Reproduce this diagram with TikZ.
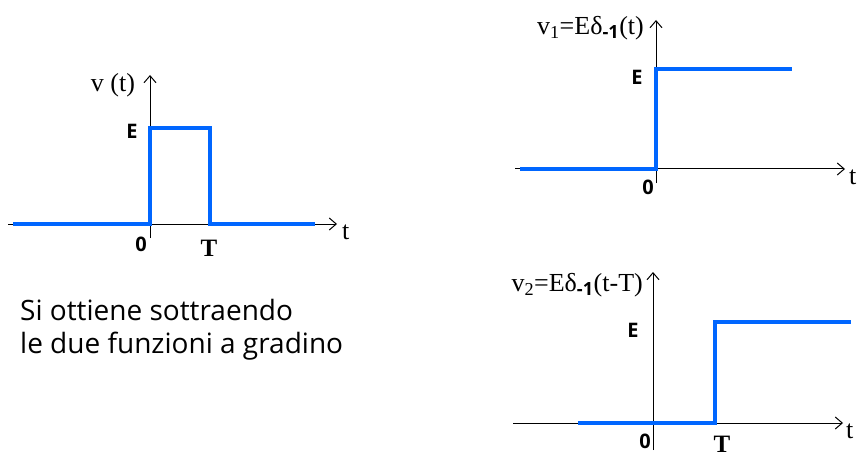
\documentclass[tikz,border=0pt]{standalone}
\usepackage{fontspec}
\setmainfont{Liberation Serif}
\setsansfont{Open Sans}
\usetikzlibrary{arrows.meta}
\definecolor{sigBlue}{RGB}{0,102,255}

\begin{document}
\begin{tikzpicture}[x=1pt,y=-1pt, every node/.style={inner sep=0pt},
  axis/.style={line width=1pt,-{Straight Barb[length=7pt,width=12pt]}},
  sig/.style={draw=sigBlue,line width=3.6pt},
  lab/.style={font=\fontsize{26}{30}\selectfont},
  tick/.style={font=\fontsize{20}{24}\selectfont\sffamily\bfseries}]
\useasboundingbox (0,0) rectangle (861,457);
% impulso rettangolare
\coordinate (ax1) at (8,224);
\coordinate (bx1) at (337,224);
\coordinate (ay1) at (150,238);
\coordinate (by1) at (150,75);
\draw[axis] (ax1) -- (bx1);
\draw[axis] (ay1) -- (by1);
\draw[sig] (13,224) -- (150,224) -- (150,128) -- (210,128) -- (210,224) -- (315,224);
\node[lab] (v) at (113,85) {v (t)};
\node[tick] (E1) at (132,131) {E};
\node[tick] (O1) at (141,244) {0};
\node[lab,font=\fontsize{25}{30}\selectfont\bfseries] (T1) at (209,248) {T};
\node[lab,anchor=west] (t1) at (342,232) {t};
\node[anchor=base west,font=\fontsize{28}{32}\selectfont\sffamily] (txt1) at (20,320) {Si ottiene sottraendo};
\node[anchor=base west,font=\fontsize{28}{32}\selectfont\sffamily] (txt2) at (20,353) {le due funzioni a gradino};
% gradino in 0
\coordinate (ax2) at (515,169);
\coordinate (bx2) at (845,169);
\coordinate (ay2) at (656,183);
\coordinate (by2) at (656,20);
\draw[axis] (ax2) -- (bx2);
\draw[axis] (ay2) -- (by2);
\draw[sig] (520,169) -- (656,169) -- (656,69) -- (792,69);
\node[lab,anchor=east] (v1) at (644,28) {v\textsubscript{1}=Eδ\textsubscript{\sffamily\bfseries -1}(t)};
\node[tick] (E2) at (637,77) {E};
\node[tick] (O2) at (648,187) {0};
\node[lab,anchor=west] (t2) at (849,177) {t};
% gradino in T
\coordinate (ax3) at (513,423);
\coordinate (bx3) at (843,423);
\coordinate (ay3) at (653,450);
\coordinate (by3) at (653,272);
\draw[axis] (ax3) -- (bx3);
\draw[axis] (ay3) -- (by3);
\draw[sig] (578,423) -- (715,423) -- (715,322) -- (851,322);
\node[lab,anchor=east] (v2) at (643,285) {v\textsubscript{2}=Eδ\textsubscript{\sffamily\bfseries -1}(t-T)};
\node[tick] (E3) at (633,330) {E};
\node[tick] (O3) at (645,441) {0};
\node[lab,font=\fontsize{25}{30}\selectfont\bfseries] (T3) at (722,444) {T};
\node[lab,anchor=west] (t3) at (846,431) {t};
\end{tikzpicture}
\end{document}
